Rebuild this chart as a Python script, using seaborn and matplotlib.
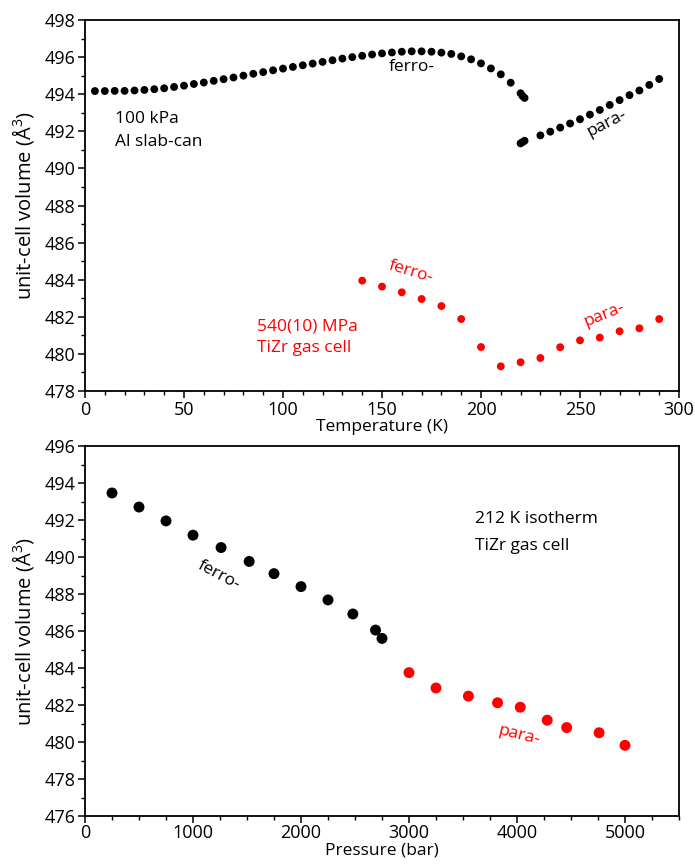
import numpy as np
import pandas as pd
import matplotlib
matplotlib.use("Agg")
import matplotlib.pyplot as plt
from matplotlib.ticker import MultipleLocator
import seaborn as sns

# ---- data: top panel (100 kPa, Al slab-can), black ----
t_ferro = [5, 10, 15, 20, 25, 30, 35, 40, 45, 50, 55, 60, 65, 70, 75, 80, 85, 90, 95, 100,
           105, 110, 115, 120, 125, 130, 135, 140, 145, 150, 155, 160, 165, 170, 175, 180,
           185, 190, 195, 200, 205, 210, 215, 220, 221, 222]
v_ferro = [494.17, 494.17, 494.18, 494.18, 494.20, 494.23, 494.27, 494.32, 494.39, 494.46,
           494.55, 494.63, 494.72, 494.81, 494.90, 495.00, 495.10, 495.19, 495.29, 495.38,
           495.47, 495.56, 495.65, 495.74, 495.83, 495.92, 496.00, 496.07, 496.14, 496.20,
           496.25, 496.29, 496.31, 496.31, 496.29, 496.24, 496.17, 496.04, 495.88, 495.66,
           495.39, 495.07, 494.62, 494.05, 493.90, 493.80]
t_para = [220, 221, 222, 230, 235, 240, 245, 250, 255, 260, 265, 270, 275, 280, 285, 290]
v_para = [491.35, 491.42, 491.49, 491.78, 491.98, 492.20, 492.42, 492.65, 492.90, 493.15,
          493.42, 493.68, 493.95, 494.20, 494.50, 494.82]

# ---- top panel, 540(10) MPa TiZr gas cell, red ----
t_hp = [140, 150, 160, 170, 180, 190, 200, 210, 220, 230, 240, 250, 260, 270, 280, 290]
v_hp = [483.95, 483.63, 483.32, 482.96, 482.58, 481.88, 480.37, 479.33, 479.55, 479.78,
        480.36, 480.73, 480.88, 481.22, 481.38, 481.88]

# ---- bottom panel: 212 K isotherm ----
p_ferro = [250, 500, 750, 1000, 1260, 1520, 1750, 2000, 2250, 2480, 2690, 2750]
v_p_ferro = [493.46, 492.70, 491.95, 491.18, 490.51, 489.76, 489.10, 488.40, 487.68,
             486.92, 486.05, 485.60]
p_para = [3000, 3250, 3550, 3820, 4030, 4280, 4460, 4760, 5000]
v_p_para = [483.75, 482.92, 482.48, 482.12, 481.88, 481.18, 480.78, 480.50, 479.82]

sns.set_style("ticks")
plt.rcParams['font.family'] = ['Open Sans', 'DejaVu Sans']
plt.rcParams['mathtext.fontset'] = 'custom'
plt.rcParams['mathtext.rm'] = 'Open Sans'
plt.rcParams['mathtext.it'] = 'Open Sans'
for k in ['text.color', 'axes.labelcolor', 'xtick.color', 'ytick.color', 'axes.edgecolor']:
    plt.rcParams[k] = 'black'

FS = 12.5
TFS = 13
YFS = 14.5
RED = '#ff0000'

fig = plt.figure(figsize=(6.95, 8.64), dpi=100)
ax1 = fig.add_axes([85/695, 1-391/864, 594/695, 371/864])
ax2 = fig.add_axes([85/695, 1-816/864, 594/695, 370/864])

df_top = pd.concat([
    pd.DataFrame({'T': t_ferro, 'V': v_ferro, 'set': 'amb'}),
    pd.DataFrame({'T': t_para, 'V': v_para, 'set': 'amb'}),
    pd.DataFrame({'T': t_hp, 'V': v_hp, 'set': 'hp'}),
], ignore_index=True)
sns.scatterplot(data=df_top, x='T', y='V', hue='set', palette={'amb': 'black', 'hp': RED},
                s=32, linewidth=0, legend=False, ax=ax1)

df_bot = pd.concat([
    pd.DataFrame({'P': p_ferro, 'V': v_p_ferro, 'phase': 'ferro'}),
    pd.DataFrame({'P': p_para, 'V': v_p_para, 'phase': 'para'}),
], ignore_index=True)
sns.scatterplot(data=df_bot, x='P', y='V', hue='phase', palette={'ferro': 'black', 'para': RED},
                s=62, linewidth=0, legend=False, ax=ax2)

ax1.set_xlim(0, 300)
ax1.set_ylim(478, 498)
ax1.xaxis.set_major_locator(MultipleLocator(50))
ax1.xaxis.set_minor_locator(MultipleLocator(10))
ax1.yaxis.set_major_locator(MultipleLocator(2))
ax1.yaxis.set_minor_locator(MultipleLocator(1))
ax1.set_xlabel('Temperature (K)', fontsize=FS, labelpad=0)
ax1.set_ylabel('unit-cell volume (Å$^3$)', fontsize=YFS, labelpad=6)

ax2.set_xlim(0, 5500)
ax2.set_ylim(476, 496)
ax2.xaxis.set_major_locator(MultipleLocator(1000))
ax2.xaxis.set_minor_locator(MultipleLocator(250))
ax2.yaxis.set_major_locator(MultipleLocator(2))
ax2.yaxis.set_minor_locator(MultipleLocator(1))
ax2.set_xlabel('Pressure (bar)', fontsize=FS, labelpad=0)
ax2.set_ylabel('unit-cell volume (Å$^3$)', fontsize=YFS, labelpad=6)

for ax in (ax1, ax2):
    for sp in ax.spines.values():
        sp.set_linewidth(1.3)
        sp.set_color('black')
    ax.tick_params(which='major', direction='out', length=5, width=1.1, labelsize=TFS, pad=2, colors='black')
    ax.tick_params(which='minor', direction='out', length=3, width=1.0, colors='black')
ax2.tick_params(axis='x', which='major', pad=1)

# annotations top
ax1.text(15, 492.66, '100 kPa', fontsize=FS, va='center', ha='left')
ax1.text(15, 491.42, 'Al slab-can', fontsize=FS, va='center', ha='left')
ax1.text(165, 495.45, 'ferro-', fontsize=FS, va='center', ha='center')
ax1.text(263.5, 492.45, 'para-', fontsize=FS, va='center', ha='center', rotation=27)
ax1.text(164.5, 484.44, 'ferro-', fontsize=FS, va='center', ha='center', rotation=-17, color=RED)
ax1.text(262.5, 482.10, 'para-', fontsize=FS, va='center', ha='center', rotation=22, color=RED)
ax1.text(87, 481.5, '540(10) MPa', fontsize=FS, va='center', ha='left', color=RED)
ax1.text(87, 480.32, 'TiZr gas cell', fontsize=FS, va='center', ha='left', color=RED)

# annotations bottom
ax2.text(3610, 492.05, '212 K isotherm', fontsize=FS, va='center', ha='left')
ax2.text(3610, 490.61, 'TiZr gas cell', fontsize=FS, va='center', ha='left')
ax2.text(1240, 488.99, 'ferro-', fontsize=FS, va='center', ha='center', rotation=-28)
ax2.text(4020, 480.37, 'para-', fontsize=FS, va='center', ha='center', rotation=-14, color=RED)

fig.savefig('out.png', dpi=100)
